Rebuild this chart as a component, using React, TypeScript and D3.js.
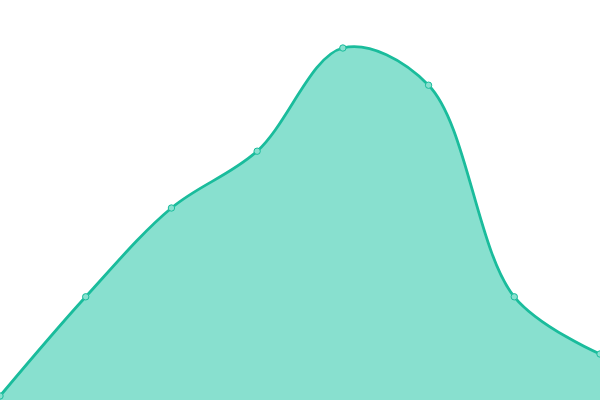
import React from "react";
import * as d3 from "d3";

const categories = ["A", "B", "C", "D", "E", "F", "G", "H"];
const values = [1, 25.8, 48, 62.2, 88, 78.7, 25.8, 11.5];

const W = 600;
const H = 400;

export default function App() {
  const x = d3.scalePoint<string>().domain(categories).range([0, W]);
  const y = d3.scaleLinear().domain([0, 100]).range([H, 0]);
  const pts: [number, number][] = categories.map((c, i) => [x(c) as number, y(values[i])]);
  const curve = d3.curveCatmullRom.alpha(0.5);
  const area = d3.area<[number, number]>().x(d => d[0]).y0(H).y1(d => d[1]).curve(curve);
  const line = d3.line<[number, number]>().x(d => d[0]).y(d => d[1]).curve(curve);
  return (
    <svg width={W} height={H} style={{ position: "fixed", left: 0, top: 0, display: "block" }}>
      <rect width={W} height={H} fill="#ffffff" />
      <path d={area(pts) || ""} fill="#88e0cf" />
      <path d={line(pts) || ""} fill="none" stroke="#1abc9c" strokeWidth={2.8} />
      {pts.map((p, i) => (
        <circle key={i} cx={p[0]} cy={p[1]} r={3.2} fill="#88e0cf" stroke="#1abc9c" strokeWidth={1} />
      ))}
    </svg>
  );
}
